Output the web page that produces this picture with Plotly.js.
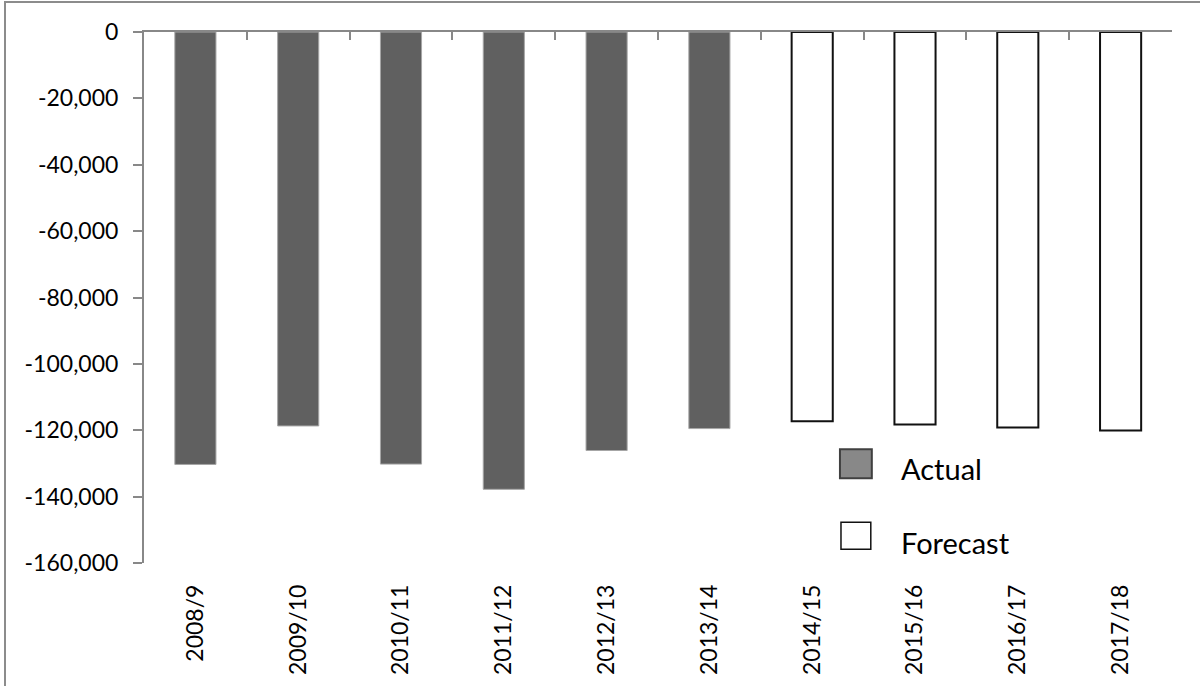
<!DOCTYPE html>
<html>
<head>
<meta charset="utf-8">
<script src="https://cdn.plot.ly/plotly-3.0.1.min.js"></script>
<style>
  html, body { margin: 0; padding: 0; background: #fff; overflow: hidden; }
  #chart { width: 1200px; height: 686px; position: absolute; left: 0; top: 0; }
  #frame { position: absolute; left: 4px; top: 1px; width: 1300px; height: 800px;
           border: 2px solid #8c8c8c; pointer-events: none; box-sizing: border-box; }
</style>
</head>
<body>
<div id="chart"></div>
<div id="frame"></div>
<script>
// ---- data ----
const categories = ["2008/9", "2009/10", "2010/11", "2011/12", "2012/13",
                    "2013/14", "2014/15", "2015/16", "2016/17", "2017/18"];
const actualYears = ["2008/9", "2009/10", "2010/11", "2011/12", "2012/13", "2013/14"];
const actualValues = [-130300, -118700, -130200, -137800, -126100, -119500];
const forecastYears = ["2014/15", "2015/16", "2016/17", "2017/18"];
const forecastValues = [-117300, -118250, -119150, -120050];
const yTickVals = [0, -20000, -40000, -60000, -80000, -100000, -120000, -140000, -160000];
const yTickText = ["0", "-20,000", "-40,000", "-60,000", "-80,000", "-100,000", "-120,000", "-140,000", "-160,000"];
const legendNames = ["Actual", "Forecast"];

const FONT = "Lato, 'Open Sans', sans-serif";
const AXIS_GREY = "#888888";

const traces = [
  {
    type: "bar", name: legendNames[0], x: actualYears, y: actualValues,
    xaxis: "x", yaxis: "y", width: 0.4,
    marker: { color: "#606060", line: { color: "#a6a6a6", width: 1 } },
    showlegend: false, hoverinfo: "x+y"
  },
  {
    type: "bar", name: legendNames[1], x: forecastYears, y: forecastValues,
    xaxis: "x2", yaxis: "y", width: 0.4,
    marker: { color: "#ffffff", line: { color: "#111111", width: 2 } },
    showlegend: false, hoverinfo: "x+y"
  }
];

const layout = {
  width: 1200, height: 686,
  margin: { l: 144, r: 28, t: 32, b: 123, pad: 0 },
  paper_bgcolor: "#ffffff", plot_bgcolor: "#ffffff",
  barmode: "overlay",
  showlegend: false,
  font: { family: FONT, color: "#000000", size: 23 },
  xaxis: {
    type: "category", categoryorder: "array", categoryarray: categories,
    range: [-0.5, categories.length - 0.5],
    showline: false, showgrid: false, zeroline: false, ticks: "",
    tickangle: -90, tickfont: { family: FONT, size: 23, color: "#000" },
    ticklabelstandoff: 16, fixedrange: true
  },
  xaxis2: {
    type: "category", categoryorder: "array", categoryarray: categories,
    matches: "x", overlaying: "x", anchor: "y", side: "top",
    range: [-0.5, categories.length - 0.5],
    showline: true, linecolor: AXIS_GREY, linewidth: 2,
    ticks: "inside", tickson: "boundaries", ticklen: 8, tickwidth: 2, tickcolor: AXIS_GREY,
    showticklabels: false, showgrid: false, zeroline: false, fixedrange: true
  },
  yaxis: {
    range: [-160000, 0], tickvals: yTickVals, ticktext: yTickText,
    showline: true, linecolor: AXIS_GREY, linewidth: 2,
    ticks: "outside", ticklen: 9, tickwidth: 2, tickcolor: AXIS_GREY,
    showgrid: false, zeroline: false,
    tickfont: { family: FONT, size: 23, color: "#000" },
    ticklabelstandoff: 10, fixedrange: true
  },
  shapes: [
    { type: "rect", xref: "paper", yref: "paper", x0: 0.677, x1: 0.708, y0: 0.1597, y1: 0.2143,
      fillcolor: "#888888", line: { color: "#404040", width: 2 } },
    { type: "rect", xref: "paper", yref: "paper", x0: 0.678, x1: 0.707, y0: 0.0258, y1: 0.0767,
      fillcolor: "#ffffff", line: { color: "#111111", width: 1.5 } }
  ],
  annotations: [
    { xref: "paper", yref: "paper", x: 0.734, y: 0.178, xanchor: "left", yanchor: "middle",
      text: legendNames[0], showarrow: false, font: { family: FONT, size: 29, color: "#000" } },
    { xref: "paper", yref: "paper", x: 0.734, y: 0.039, xanchor: "left", yanchor: "middle",
      text: legendNames[1], showarrow: false, font: { family: FONT, size: 29, color: "#000" } }
  ]
};

Plotly.newPlot("chart", traces, layout, { displayModeBar: false, staticPlot: true });
</script>
</body>
</html>
